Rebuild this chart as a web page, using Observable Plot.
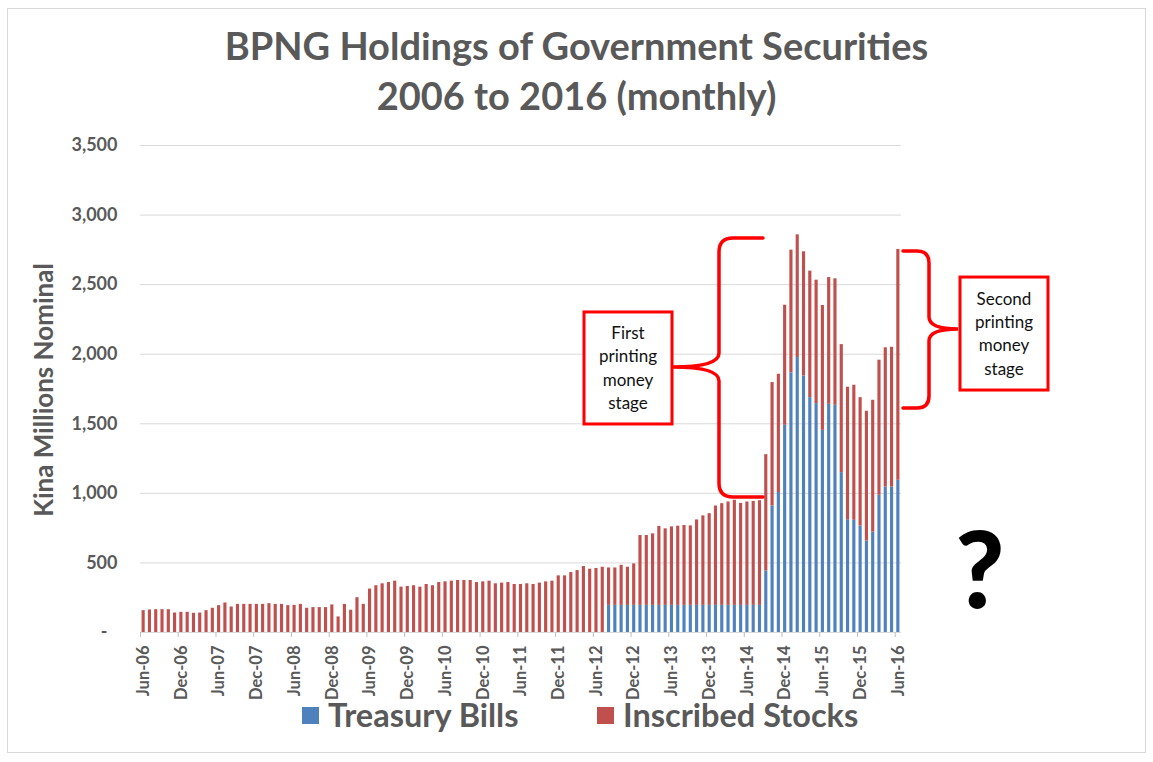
<!DOCTYPE html>
<html><head><meta charset="utf-8">
<script src="https://cdn.jsdelivr.net/npm/d3@7"></script>
<script src="https://cdn.jsdelivr.net/npm/@observablehq/plot@0.6"></script>
<style>
body{margin:0;background:#fff;font-family:Lato,"Open Sans",sans-serif;}
#wrap{position:relative;width:1153px;height:762px;overflow:hidden;background:#fff;}
#frame{position:absolute;left:7px;top:8px;width:1139px;height:745px;border:1px solid #d9d9d9;box-sizing:border-box;}
#title{position:absolute;left:0;width:1153px;top:20px;text-align:center;color:#595959;font-weight:bold;font-size:38px;line-height:50px;}
#chart{position:absolute;left:0;top:130px;}
#ytitle{position:absolute;left:43px;top:390px;transform:translate(-50%,-50%) rotate(-90deg);white-space:nowrap;color:#595959;font-weight:bold;font-size:26px;}
.leg{position:absolute;top:699px;display:flex;align-items:center;color:#595959;font-weight:bold;font-size:32.5px;line-height:32px;white-space:nowrap;}
.sw{display:inline-block;width:17px;height:17px;margin-right:9px;}
</style></head><body>
<div id="wrap">
<div id="frame"></div>
<div id="title">BPNG Holdings of Government Securities<br>2006 to 2016 (monthly)</div>
<div id="chart"></div>
<div id="ytitle">Kina Millions Nominal</div>
<div id="legend"></div>
</div>
<script>
// ---- data ----
const seriesNames = ["Treasury Bills", "Inscribed Stocks"];
const seriesColors = ["#4f81bd", "#c0504d"];
const categories = d3.utcMonth.range(new Date(Date.UTC(2006, 5, 1)), new Date(Date.UTC(2016, 6, 1))).map(d3.utcFormat("%b-%y"));
const tickLabels = ["Jun-06","Dec-06","Jun-07","Dec-07","Jun-08","Dec-08","Jun-09","Dec-09","Jun-10","Dec-10","Jun-11","Dec-11","Jun-12","Dec-12","Jun-13","Dec-13","Jun-14","Dec-14","Jun-15","Dec-15","Jun-16"];
const yTicks = [0, 500, 1000, 1500, 2000, 2500, 3000, 3500];
const treasuryBills = [
  0,0,0,0,0,0,0,0,0,0,0,0,0,0,0,0,0,0,0,0,0,0,0,0,0,0,0,0,0,0,
  0,0,0,0,0,0,0,0,0,0,0,0,0,0,0,0,0,0,0,0,0,0,0,0,0,0,0,0,0,0,
  0,0,0,0,0,0,0,0,0,0,0,0,0,0,195,195,195,195,195,195,195,195,195,195,195,195,195,195,195,195,
  195,195,195,195,195,195,195,195,195,442,910,1006,1489,1866,1976,1844,1688,1645,1453,1640,
  1633,1149,811,806,765,657,722,986,1046,1046,1094
];
const inscribedStocks = [
  157,162,164,164,164,140,145,145,138,140,157,174,193,212,183,202,202,202,202,202,
  207,202,202,193,195,202,174,179,179,179,198,112,202,160,250,202,312,336,350,359,
  369,326,331,336,326,345,336,359,364,369,374,374,374,359,364,369,350,355,359,345,
  345,350,345,355,364,369,407,407,431,445,474,455,460,469,269,269,288,274,298,502,
  502,514,567,550,564,569,574,571,614,643,659,714,731,743,755,733,743,747,752,836,
  886,850,863,882,882,892,909,887,897,911,909,920,952,971,923,933,947,971,1000,1004,
  1659
];

const rows = [];
seriesNames.forEach((s, k) => {
  const vals = k === 0 ? treasuryBills : inscribedStocks;
  categories.forEach((m, i) => rows.push({month: m, series: s, value: vals[i]}));
});

// ---- layout ----
const W = 1153, H = 590, ML = 140, MR = 252, MT = 15, MB = 88;
const step = (W - ML - MR) / categories.length;

const chart = Plot.plot({
  width: W, height: H,
  marginLeft: ML, marginRight: MR, marginTop: MT, marginBottom: MB,
  style: {fontFamily: "Lato, 'Open Sans', sans-serif", fontWeight: "bold", color: "#595959", background: "transparent", overflow: "visible"},
  x: {type: "band", domain: categories, paddingInner: 0.5, paddingOuter: 0.25, round: false, label: null, axis: null},
  y: {domain: [0, 3500], label: null, axis: null},
  color: {domain: seriesNames, range: seriesColors},
  marks: [
    Plot.gridY(yTicks.slice(1), {stroke: "#d9d9d9", strokeOpacity: 1, strokeWidth: 1}),
    Plot.ruleY([0], {stroke: "#d9d9d9"}),
    Plot.barY(rows, {x: "month", y: "value", fill: "series"}),
    Plot.axisY(yTicks.slice(1), {tickSize: 0, tickPadding: 23, tickFormat: d3.format(","), fontSize: 18, fill: "#595959"}),
    Plot.axisY([0], {tickSize: 0, tickPadding: 23, tickFormat: () => "-", dx: -10, fontSize: 18, fill: "#595959"}),
    Plot.axisX(tickLabels, {tickSize: 0, tickPadding: 13, tickRotate: -90, fontSize: 16.5, fill: "#595959"}),
    Plot.axisX(tickLabels, {tickSize: 5, tickPadding: 0, tickFormat: () => "", dx: -step / 2, stroke: "#bfbfbf"})
  ]
});
document.getElementById("chart").appendChild(chart);

// ---- legend ----
const legend = document.getElementById("legend");
const legendLeft = [302, 597];
seriesNames.forEach((s, i) => {
  const d = document.createElement("div");
  d.className = "leg";
  d.style.left = legendLeft[i] + "px";
  d.innerHTML = `<span class="sw" style="background:${seriesColors[i]}"></span>${s}`;
  legend.appendChild(d);
});

// ---- annotations (vertical positions in data units via y scale) ----
const ys = chart.scale("y");
const Y = v => ys.apply(v);
const svg = d3.select(chart);
const red = "#ff0000";
const g = svg.append("g").attr("fill", "none").attr("stroke", red).attr("stroke-width", 3.5).attr("stroke-linecap", "round");

function leftBrace(spineX, armX, tipX, y1, y2, ym, r) {
  return `M${armX},${y1} L${spineX + r},${y1} Q${spineX},${y1} ${spineX},${y1 + r} L${spineX},${ym - r} Q${spineX},${ym} ${tipX},${ym} Q${spineX},${ym} ${spineX},${ym + r} L${spineX},${y2 - r} Q${spineX},${y2} ${spineX + r},${y2} L${armX},${y2}`;
}
function rightBrace(spineX, armX, tipX, y1, y2, ym, r) {
  return `M${armX},${y1} L${spineX - r},${y1} Q${spineX},${y1} ${spineX},${y1 + r} L${spineX},${ym - r} Q${spineX},${ym} ${tipX},${ym} Q${spineX},${ym} ${spineX},${ym + r} L${spineX},${y2 - r} Q${spineX},${y2} ${spineX - r},${y2} L${armX},${y2}`;
}
g.append("path").attr("d", leftBrace(719, 763, 673, Y(2832), Y(970), Y(1905), 14));
g.append("path").attr("d", rightBrace(929, 903, 958, Y(2738), Y(1610), Y(2178), 12));

const boxes = [
  {x0: 584, x1: 672, top: 2300, bottom: 1495, lines: ["First", "printing", "money", "stage"]},
  {x0: 960, x1: 1048, top: 2551, bottom: 1739, lines: ["Second", "printing", "money", "stage"]}
];
boxes.forEach(b => {
  const y0 = Y(b.top), y1 = Y(b.bottom);
  svg.append("rect").attr("x", b.x0).attr("y", y0).attr("width", b.x1 - b.x0).attr("height", y1 - y0)
    .attr("fill", "#fff").attr("stroke", red).attr("stroke-width", 3);
  const cy = (y0 + y1) / 2, lh = 23.3;
  const t = svg.append("text").attr("text-anchor", "middle").attr("fill", "#111")
    .attr("font-family", "Lato, 'Open Sans', sans-serif").attr("font-weight", "normal").attr("font-size", 17);
  b.lines.forEach((ln, i) => {
    t.append("tspan").attr("x", (b.x0 + b.x1) / 2).attr("y", cy + (i - (b.lines.length - 1) / 2) * lh).attr("dy", "0.36em").text(ln);
  });
});

svg.append("text").attr("x", 980).attr("y", Y(173)).attr("text-anchor", "middle")
  .attr("font-family", "Lato, 'Open Sans', sans-serif").attr("font-weight", 900).attr("font-size", 106).attr("fill", "#000").text("?");
</script>
</body></html>
